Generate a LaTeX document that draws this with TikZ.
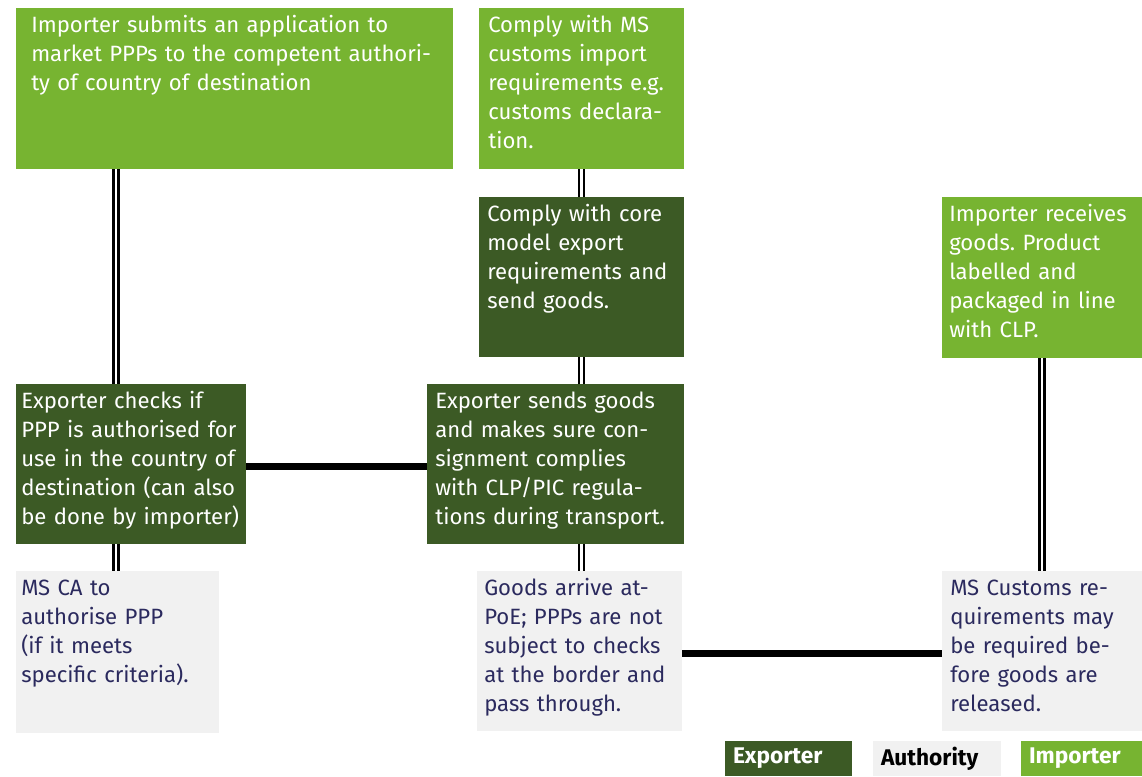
\documentclass[tikz,border=0pt]{standalone}
\usepackage{fontspec}
\setmainfont{Fira Sans}
\usetikzlibrary{positioning}
\frenchspacing

\definecolor{impgreen}{HTML}{77B431}
\definecolor{expgreen}{HTML}{3C5A25}
\definecolor{authgrey}{HTML}{F1F1F1}
\definecolor{authink}{HTML}{2B2A5E}

\tikzset{
  box/.style 2 args={anchor=north west, inner sep=0pt, outer sep=0pt,
    minimum width=#1*0.75pt, minimum height=#2*0.75pt},
  impbox/.style={fill=impgreen},
  expbox/.style={fill=expgreen},
  authbox/.style={fill=authgrey},
  steptext/.style={anchor=base west, inner sep=0pt, text width=320pt, align=left,
    font=\fontsize{16.6}{21.75}\selectfont},
  link/.style={line width=1.7pt, double=white, double distance=2pt},
  tie/.style={line width=5.25pt},
  keybox/.style={anchor=north west, inner xsep=6pt, inner ysep=0pt, outer sep=0pt,
    minimum height=26.25pt, align=left, font=\fontsize{17}{19}\selectfont\bfseries}
}

\begin{document}
\begin{tikzpicture}[x=0.75pt, y=-0.75pt]
    \useasboundingbox (0,0) rectangle (1142,776);

    % Importer steps
    \node[box={437}{161}, impbox] (apply) at (16,8) {};
    \node[steptext, text=white] (apply text) at ([shift={(15,24)}]apply.north west)
      {Importer submits an application to\\ market PPPs to the competent authori-\\ ty of country of destination};
    \node[box={205}{161}, impbox] (customs) at (479,8) {};
    \node[steptext, text=white] (customs text) at ([shift={(9,24)}]customs.north west)
      {Comply with MS\\ customs import\\ requirements e.g.\\ customs declara-\\ tion.};
    \node[box={200}{161}, impbox] (receive) at (942,197) {};
    \node[steptext, text=white] (receive text) at ([shift={(7,24)}]receive.north west)
      {Importer receives\\ goods. Product\\ labelled and\\ packaged in line\\ with CLP.};

    % Exporter steps
    \node[box={205}{160}, expbox] (send) at (479,197) {};
    \node[steptext, text=white] (send text) at ([shift={(8,24)}]send.north west)
      {Comply with core\\ model export\\ requirements and\\ send goods.};
    \node[box={230}{160}, expbox] (check) at (16,384) {};
    \node[steptext, text=white] (check text) at ([shift={(5,24)}]check.north west)
      {Exporter checks if\\ PPP is authorised for\\ use in the country of\\ destination (can also\\ be done by importer)};
    \node[box={257}{160}, expbox] (ship) at (427,384) {};
    \node[steptext, text=white] (ship text) at ([shift={(8,24)}]ship.north west)
      {Exporter sends goods\\ and makes sure con-\\ signment complies\\ with CLP/PIC regula-\\ tions during transport.};

    % Authority steps
    \node[box={203}{162}, authbox] (authorise) at (16,571) {};
    \node[steptext, text=authink] (authorise text) at ([shift={(5,24)}]authorise.north west)
      {MS CA to\\ authorise PPP\\ (if it meets\\ specific criteria).};
    \node[box={205}{160}, authbox] (arrive) at (477,571) {};
    \node[steptext, text=authink] (arrive text) at ([shift={(7,24)}]arrive.north west)
      {Goods arrive at-\\ PoE; PPPs are not\\ subject to checks\\ at the border and\\ pass through.};
    \node[box={200}{160}, authbox] (release) at (942,571) {};
    \node[steptext, text=authink] (release text) at ([shift={(8,24)}]release.north west)
      {MS Customs re-\\ quirements may\\ be required be-\\ fore goods are\\ released.};

    % Links between steps
    \path (check.north west) ++(100,0) coordinate (check top);
    \path (check.south west) ++(100,0) coordinate (check foot);
    \draw[link] (check top) -- (check top |- apply.south);
    \draw[link] (check foot) -- (check foot |- authorise.north);
    \draw[link] (customs.south) -- (send.north);
    \draw[link] (ship.north -| send.south) -- (send.south);
    \draw[link] (ship.south -| send.south) -- (arrive.north -| send.south);
    \draw[link] (receive.south) -- (release.north);
    \draw[tie] ([yshift=-1.5pt]check.east) -- ([yshift=-1.5pt]ship.west);
    \draw[tie] ([yshift=-1.5pt]arrive.east) -- ([yshift=-1.5pt]release.west);

    % Key
    \node[keybox, fill=expgreen, text=white, text width=83.25pt] (key exp) at (725,741) {Exporter};
    \node[keybox, fill=authgrey, text=black, text width=84pt] (key auth) at (873,741) {Authority};
    \node[keybox, fill=impgreen, text=white, text width=78.75pt] (key imp) at (1021,741) {Importer};
\end{tikzpicture}
\end{document}
